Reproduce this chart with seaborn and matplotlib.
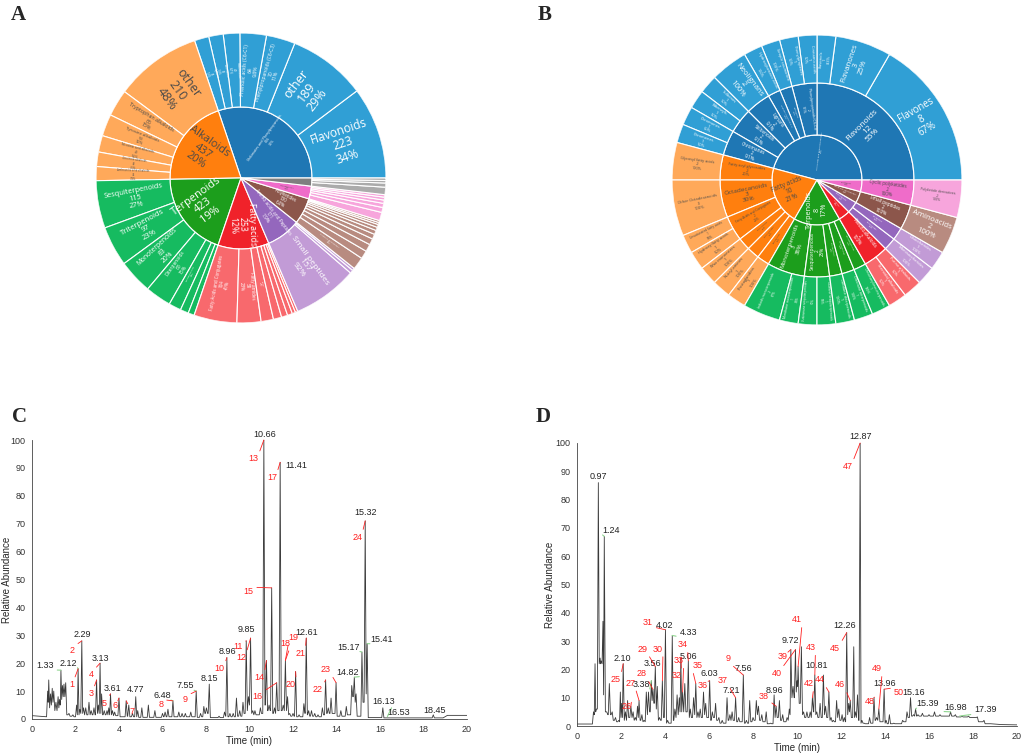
import numpy as np
import pandas as pd
import matplotlib
matplotlib.use("Agg")
import matplotlib.pyplot as plt
from matplotlib.ticker import MultipleLocator
import seaborn as sns

sns.set_style("white")
plt.rcParams["font.family"] = ["Liberation Sans", "DejaVu Sans"]

# ---------------- A : sunburst, all compounds ----------------
a_l1_names = ["Shikimates and Phenylpropanoids", "Alkaloids", "Terpenoids", "Fatty acids",
              "Amino acids and Peptides", "Polyketides", "Carbohydrates", "other"]
a_l1_values = [656, 437, 423, 253, 171, 130, 63, 40]

a_l2_names = ["Flavonoids", "other", "Phenylpropanoids (C6-C3)", "Phenolic acids (C6-C1)", "Stilbenoids",
              "Coumarins", "Lignans",
              "other", "Tryptophan alkaloids", "Tyrosine alkaloids", "Nicotinic acid alkaloids",
              "Ornithine alkaloids", "Anthranilic acid alkaloids",
              "Sesquiterpenoids", "Triterpenoids", "Monoterpenoids", "Diterpenoids", "Meroterpenoids",
              "Sesterterpenoids", "Apocarotenoids",
              "Fatty Acids and Conjugates", "Fatty amides", "other", "Fatty esters", "Eicosanoids",
              "Octadecanoids", "Fatty alcohols", "Glycerolipids",
              "Small peptides", "Oligopeptides", "Amino acids",
              "Aromatic polyketides", "Macrolides", "Polyethers", "Cyclic polyketides", "Linear polyketides",
              "Naphthalenes", "Chromones", "Polyprenols", "Tetracyclic", "other",
              "Monosaccharides", "Disaccharides", "Aminosugars", "Oligosaccharides", "Polyols", "other",
              "Phenylethanoids", "Organic acids", "Benzenoids", "other"]
a_l2_values = [223, 189, 70, 64, 40, 35, 35,
               210, 65, 53, 40, 35, 34,
               115, 97, 83, 63, 30, 20, 15,
               104, 58, 30, 20, 15, 12, 8, 6,
               157, 8, 6,
               30, 20, 18, 15, 12, 10, 8, 7, 5, 5,
               20, 12, 10, 8, 7, 6,
               18, 10, 6, 6]
a_l2_parent = [0] * 7 + [1] * 6 + [2] * 7 + [3] * 8 + [4] * 3 + [5] * 10 + [6] * 6 + [7] * 4

# ---------------- B : sunburst, identified compounds ----------------
b_l1_names = ["Shikimates and Phenylpropanoids", "Fatty acids", "Terpenoids", "Alkaloids",
              "Carbohydrates", "Amino acids and Peptides", "Polyketides"]
b_l1_values = [22, 10, 8, 2, 2, 2, 2]

b_l2_names = ["Flavonoids", "Phenylpropanoids (C6-C3)", "Coumarins", "Phenolic acids (C6-C1)", "Lignans",
              "Stilbenoids", "Chromanes",
              "Fatty acyl glycosides", "Octadecanoids", "Fatty Acids and Conjugates", "Fatty esters",
              "Fatty amides", "Eicosanoids",
              "Monoterpenoids", "Sesquiterpenoids", "Diterpenoids", "Triterpenoids", "Meroterpenoids",
              "Pseudoalkaloids", "Saccharides", "Glycosides", "Small peptides", "Cyclic polyketides"]
b_l2_values = [12, 2, 1, 1, 2, 2, 2, 2, 3, 2, 1, 1, 1, 3, 2, 1, 1, 1, 2, 1, 1, 2, 2]
b_l2_parent = [0] * 7 + [1] * 6 + [2] * 5 + [3] + [4, 4] + [5] + [6]

b_l3_names = ["Flavones", "Flavanones", "Flavonols", "Cinnamic acids", "Phenylpropenes", "Simple coumarins",
              "Hydroxybenzoic acids", "Neolignans", "Stilbenes", "Bibenzyls", "Chromones", "Chromenes",
              "Glycosyl fatty acids", "Other Octadecanoids", "Unsaturated fatty acids", "Hydroxy fatty acids",
              "Wax monoesters", "N-acyl amines", "Prostaglandins",
              "Iridoids monoterpenoids", "Menthane monoterpenoids", "Eudesmane sesquiterpenoids",
              "Guaiane sesquiterpenoids", "Labdane diterpenoids", "Oleanane triterpenoids",
              "Chromanyl meroterpenoids", "Steroidal alkaloids", "Purine alkaloids",
              "Monosaccharides", "Disaccharides", "Aminoacids", "Polyketide derivatives"]
b_l3_values = [8, 3, 1, 1, 1, 1, 1, 2, 1, 1, 1, 1,
               2, 3, 1, 1, 1, 1, 1,
               2, 1, 1, 1, 1, 1, 1,
               1, 1, 1, 1, 2, 2]
b_l3_parent = [0, 0, 0, 1, 1, 2, 3, 4, 5, 5, 6, 6,
               7, 8, 9, 9, 10, 11, 12,
               13, 13, 14, 14, 15, 16, 17,
               18, 18, 19, 20, 21, 22]

# ---------------- C : chromatogram ----------------
c_lead_t = [0.0, 0.62]
c_lead_y = [1.2, 0.8]
c_peak_t = [0.72, 0.77, 0.85, 0.93, 1.00, 1.10, 1.20, 1.27, 1.33, 1.40,
            1.47, 1.55, 1.70, 1.88, 2.05, 2.12, 2.20, 2.29, 2.37, 2.47,
            2.62, 2.72, 2.85, 2.97, 3.05, 3.13, 3.20, 3.32, 3.45, 3.53,
            3.61, 3.70, 3.80, 4.00, 4.33, 4.45, 4.62, 4.77, 4.86, 5.05,
            5.35, 5.65, 6.00, 6.12, 6.25, 6.48, 6.75, 6.90, 7.05, 7.30,
            7.55, 7.75, 7.90, 8.02, 8.15, 8.60, 8.85, 8.96, 9.10, 9.25,
            9.40, 9.55, 9.70, 9.85, 9.95, 10.05, 10.15, 10.25, 10.50, 10.66,
            10.78, 10.90, 11.02, 11.15, 11.25, 11.41, 11.55, 11.65, 11.75, 11.85,
            12.00, 12.12, 12.28, 12.50, 12.61, 12.72, 12.85, 13.00, 13.15, 13.35,
            13.50, 13.62, 13.75, 13.98, 14.20, 14.45, 14.70, 14.82, 14.90, 15.17,
            15.32, 15.41, 16.13, 18.45]
c_peak_h = [10, 14, 9, 11, 10, 6, 8, 7, 17.5, 12,
            12.5, 13, 2, 1.5, 5, 18, 3.5, 28, 4, 4,
            6, 3, 4, 14, 5, 20, 9, 3, 3, 4,
            9, 3, 2.5, 7.5, 6.5, 5, 2, 8, 3, 4,
            5, 3, 2, 2.5, 3.5, 6.5, 2.5, 2, 2, 2.5,
            10, 2, 4.5, 4, 12.5, 1, 2.5, 22, 2, 2,
            7.5, 3, 6, 28, 8, 29, 3, 3, 4, 100,
            21, 5, 47, 4, 13, 92, 5, 21, 8, 2,
            2, 17, 1.5, 5.5, 29, 3, 3, 2, 1.5, 4,
            14, 4, 7.5, 13, 3, 4.5, 12, 15, 9, 24,
            71, 27, 4, 1.5]
c_valley = [0.8, 6, 4, 5, 6, 3, 3, 4, 5, 7,
            8, 8, 1.5, 1, 0.8, 1.5, 1.5, 2, 2, 1.5,
            1.5, 1.5, 1.5, 1.5, 2, 2, 2, 1.5, 1.5, 1.5,
            1.5, 1.5, 1.2, 1.2, 0.8, 1, 0.8, 0.8, 0.8, 0.6,
            0.6, 0.6, 0.6, 0.8, 0.8, 0.8, 0.8, 0.8, 0.8, 0.8,
            0.8, 0.6, 0.8, 2, 2, 0.5, 0.5, 1, 0.8, 0.8,
            0.8, 1, 1, 2, 3, 5, 2, 1.5, 1.5, 2,
            5, 3, 3, 2, 2, 3, 3, 3, 3, 1.5,
            1, 1, 0.8, 0.8, 2, 1.5, 1, 1, 0.8, 0.8,
            1.5, 2, 2, 2, 1, 1, 1.5, 8, 6, 1,
            6, 9, 0.5, 0.4]
c_tail_t = [18.9, 19.1, 20.0]
c_tail_y = [0.4, 1.3, 1.3]

c_rt = [1.33, 2.12, 2.29, 3.13, 3.61, 4.77, 6.48, 7.55, 8.15, 8.96, 9.85,
        10.66, 11.41, 12.61, 14.82, 15.17, 15.32, 15.41, 16.13, 16.53, 18.45]
c_rt_x = [0.61, 1.69, 2.30, 3.14, 3.69, 4.77, 5.98, 7.05, 8.17, 8.97, 9.85,
          10.68, 12.15, 12.61, 14.53, 14.56, 15.33, 16.05, 16.17, 16.86, 18.50]
c_rt_y = [19.2, 20.0, 30.2, 21.6, 10.9, 10.4, 8.4, 11.9, 14.6, 24.2, 32.2,
          102.1, 90.7, 31.1, 16.8, 25.8, 74.1, 28.6, 6.2, 2.5, 3.2]
c_rt_green = [1, 1, 0, 0, 0, 0, 1, 1, 0, 0, 0, 0, 0, 0, 1, 1, 0, 1, 0, 1, 0]

c_id = [str(i) for i in range(1, 25)]
c_id_x = [1.81, 1.85, 2.71, 2.71, 3.34, 3.83, 4.60, 5.93, 7.05, 8.63, 9.46, 9.62,
          10.19, 10.45, 9.96, 10.38, 11.03, 11.63, 12.03, 11.91, 12.34, 13.15, 13.52, 14.96]
c_id_y = [12.3, 24.6, 9.1, 15.8, 5.7, 4.9, 2.7, 5.3, 6.9, 18.1, 25.9, 22.0,
          93.3, 14.9, 45.6, 8.1, 86.6, 27.2, 29.2, 12.3, 23.6, 10.5, 17.7, 65.2]
c_id_tip = [2.12, 2.29, 2.97, 3.13, 3.61, 4.00, 4.33, 6.48, 7.55, 8.96, 9.85, 10.05,
            10.66, 10.78, 11.02, 11.25, 11.41, 11.65, 11.65, 12.12, 12.61, 13.50, 13.98, 15.32]

# ---------------- D : chromatogram ----------------
d_lead_t = [0.0, 0.66]
d_lead_y = [0.7, 0.7]
d_peak_t = [0.75, 0.82, 0.88, 0.97, 1.05, 1.10, 1.18, 1.24, 1.35, 1.47,
            1.60, 1.75, 1.90, 1.97, 2.03, 2.10, 2.20, 2.30, 2.45, 2.55,
            2.65, 2.75, 2.82, 2.95, 3.05, 3.15, 3.25, 3.38, 3.45, 3.56,
            3.65, 3.75, 3.88, 4.02, 4.12, 4.33, 4.45, 4.55, 4.65, 4.72,
            4.80, 4.90, 5.06, 5.15, 5.30, 5.40, 5.50, 5.60, 5.75, 5.85,
            6.03, 6.15, 6.30, 6.45, 6.60, 6.82, 6.95, 7.05, 7.21, 7.35,
            7.56, 7.70, 7.85, 8.00, 8.15, 8.25, 8.40, 8.60, 8.80, 8.96,
            9.05, 9.20, 9.35, 9.55, 9.65, 9.72, 9.82, 9.93, 10.00, 10.05,
            10.20, 10.30, 10.45, 10.60, 10.70, 10.81, 10.90, 11.05, 11.20, 11.30,
            11.45, 11.55, 11.65, 11.80, 11.90, 12.05, 12.15, 12.26, 12.35, 12.42,
            12.58, 12.65, 12.75, 12.87, 12.95, 13.05, 13.30, 13.50, 13.62, 13.72,
            13.96, 14.05, 14.20, 14.40, 14.80, 15.00, 15.16, 15.30, 15.39, 15.50,
            15.70, 16.00, 16.25, 16.50, 16.98, 17.20, 17.50, 17.80, 18.20, 18.50]
d_peak_h = [5, 22, 6, 86, 24, 23, 37, 67, 5, 15,
            5, 3, 2, 12, 8, 22, 5, 9, 7, 5,
            3, 7, 9, 4, 2, 12, 12, 16, 13, 21,
            14, 3, 16, 34, 2, 32, 6, 11, 10, 24,
            12, 15, 23, 6, 10, 15, 5, 6, 12, 8,
            16, 5, 8, 3, 2, 10, 4, 5, 10, 3,
            18, 2, 9, 3, 9, 7, 4, 5, 1, 11,
            7, 9, 4, 3, 6, 27, 14, 27, 16, 21,
            28, 5, 5, 5, 10, 18, 5, 8, 18, 7,
            12, 3, 2, 9, 6, 4, 3, 33, 8, 9,
            28, 5, 11, 100, 2, 1, 3, 10, 3, 6,
            13, 2, 4, 1, 2, 5, 10, 4, 6, 4,
            4.5, 4, 5, 4, 5, 4, 3.5, 3.5, 3.2, 2]
d_valley = [0.7, 4, 5, 6, 22, 22, 22, 11, 5, 4,
            4, 2, 1.5, 1.5, 3, 3, 2, 2, 3, 3,
            2, 2, 3, 2, 1.5, 1.5, 4, 5, 9, 8,
            6, 2, 2, 3, 1, 1, 2, 3, 4, 5,
            5, 5, 5, 3, 3, 4, 3, 3, 3, 4,
            3, 2, 3, 2, 1, 1, 2, 2, 2, 1.5,
            1.5, 1, 1, 1.5, 2, 4, 2, 1.5, 0.8, 0.8,
            3, 3, 2, 1.5, 2, 4, 10, 10, 12, 14,
            8, 4, 3, 3, 3, 5, 4, 3, 3, 4,
            3, 2, 1.5, 1.5, 3, 2, 1.5, 1.5, 4, 5,
            3, 3, 3, 2, 1, 1, 0.8, 1, 2, 2,
            1.5, 1, 0.8, 0.8, 0.8, 1.5, 3, 3.5, 3.5, 3.5,
            3.5, 3.5, 3.5, 3.5, 3.5, 3.5, 3.2, 3.2, 3, 1.5]
d_tail_t = [18.8, 19.3, 20.0]
d_tail_y = [0.8, 0.5, 0.4]

d_rt = [0.97, 1.24, 2.10, 3.38, 3.56, 4.02, 4.33, 5.06, 6.03, 7.21, 7.56, 8.96,
        9.72, 10.81, 12.26, 12.87, 13.96, 15.16, 15.39, 16.98, 17.39]
d_rt_x = [0.95, 1.56, 2.08, 2.91, 3.44, 3.98, 5.05, 5.08, 6.03, 7.00, 7.58, 8.97,
          9.70, 10.91, 12.17, 12.88, 13.98, 15.30, 15.94, 17.20, 18.56]
d_rt_y = [88.2, 69.1, 23.9, 14.7, 22.2, 35.6, 33.1, 24.5, 18.6, 12.5, 20.4, 12.7,
          30.1, 21.3, 35.5, 102.2, 15.1, 12.0, 7.9, 6.7, 5.8]
d_rt_green = [0, 1, 0, 1, 0, 0, 1, 0, 0, 0, 0, 0, 0, 0, 0, 0, 0, 0, 1, 1, 1]

d_id = ["25", "26", "27", "28", "29", "30", "31", "32", "33", "34", "35", "36", "37", "9",
        "38", "39", "40", "41", "42", "43", "44", "45", "46", "47", "48", "49", "50"]
d_id_x = [1.77, 2.24, 2.42, 2.95, 2.98, 3.68, 3.23, 4.52, 4.62, 4.80, 5.48, 5.73, 6.64, 6.85,
          8.48, 9.36, 9.06, 10.00, 10.53, 10.61, 11.02, 11.74, 11.97, 12.30, 13.29, 13.64, 14.62]
d_id_y = [16.5, 6.8, 15.1, 18.4, 27.2, 27.2, 36.6, 17.7, 23.1, 28.7, 21.3, 14.2, 16.0, 23.7,
          10.6, 24.5, 18.6, 37.5, 14.9, 27.7, 16.3, 27.5, 14.5, 91.7, 8.6, 20.2, 11.9]
d_id_tip = [2.10, 2.45, 2.82, 3.45, 3.56, 3.88, 4.02, 4.72, 4.80, 5.06, 5.40, 6.03, 7.21, 7.56,
            9.05, 9.72, 9.93, 10.05, 10.70, 10.81, 11.45, 12.26, 12.42, 12.87, 13.50, 13.72, 13.96]

# colours: inner rings and outer (lighter) rings, per top-level group
inner_colors = ["#1f77b4", "#ff7f0e", "#1c9e1c", "#f0222a", "#9467bd", "#8c564b", "#ef6cc9", "#7f7f7f"]
outer_colors = ["#309fd5", "#ffa95a", "#16bb60", "#f8696d", "#c29bd6", "#b88b80", "#f7a5dc", "#ababab"]
text_colors = ["white", "#4a4a4a", "white", "white", "white", "white", "#4a4a4a", "white"]


def pct_text(p):
    return f"{p:.0f}%" if p >= 9.95 else f"{p:.1f}%"


def draw_level(ax, names, values, group, parent_vals, r0, r1, root, colors, cap_px):
    edges = np.concatenate([[0], np.cumsum(values)]) / root * 360.0
    for i, name in enumerate(names):
        a0, a1 = edges[i], edges[i + 1]
        span = a1 - a0
        mid = np.deg2rad((a0 + a1) / 2)
        ax.bar(mid, r1 - r0, width=np.deg2rad(span), bottom=r0, align="center",
               color=colors[group[i]], edgecolor="white", linewidth=0.8)
        rt = (r0 + r1) / 2 if r0 > 0 else 0.66 * r1
        thick = 0.9 * (r1 - r0)
        arc = np.deg2rad(span) * rt
        px = min(arc / 3.9, thick / (0.56 * max(len(name), 4)), cap_px)
        if px < 1.8:
            continue
        rot = ((a0 + a1) / 2) % 360
        if 90 < rot <= 270:
            rot -= 180
        elif rot > 270:
            rot -= 360
        label = f"{name}\n{values[i]}\n{pct_text(100.0 * values[i] / parent_vals[i])}"
        ax.text(mid, rt, label, rotation=rot, rotation_mode="anchor", ha="center", va="center",
                fontsize=px * 0.72, color=text_colors[group[i]], linespacing=1.05,
                family=["Open Sans", "DejaVu Sans"])


def sunburst_axes(fig, cx, cy, R):
    W, H = 1024, 755
    ax = fig.add_axes([(cx - R) / W, 1 - (cy + R) / H, 2 * R / W, 2 * R / H], projection="polar")
    ax.set_theta_zero_location("E")
    ax.set_ylim(0, R)
    ax.set_axis_off()
    return ax


def build_trace(lead_t, lead_y, peak_t, peak_h, valley, tail_t, tail_y, half=0.05):
    xs, ys = list(lead_t), list(lead_y)
    n = len(peak_t)
    for i in range(n):
        t = peak_t[i]
        gl = t - peak_t[i - 1] if i > 0 else 1.0
        gr = peak_t[i + 1] - t if i < n - 1 else 1.0
        nxt = valley[i + 1] if i < n - 1 else tail_y[0]
        xs += [t - min(half, gl / 2), t, t + min(half, gr / 2)]
        ys += [valley[i], peak_h[i], nxt]
    xs += list(tail_t)
    ys += list(tail_y)
    return pd.DataFrame({"Time (min)": xs, "Relative Abundance": ys})


def chromatogram(ax, df, peak_t, peak_h, rt, rt_x, rt_y, rt_green, ids, id_x, id_y, id_tip, ylab_x):
    sns.lineplot(data=df, x="Time (min)", y="Relative Abundance", ax=ax, color="#3a3a3a",
                 linewidth=0.6, estimator=None, sort=False)
    pt = np.asarray(peak_t)
    ph = np.asarray(peak_h)

    def h_at(t):
        return ph[np.argmin(np.abs(pt - t))]

    for v, x, y, g in zip(rt, rt_x, rt_y, rt_green):
        if g:
            rel = (1, 0) if x < v else (0, 0)
            ax.annotate(f"{v:.2f}", xy=(v, h_at(v)), xytext=(x, y), ha="center", va="center",
                        fontsize=6.5, color="#222222", annotation_clip=False,
                        arrowprops=dict(arrowstyle="-", color="#8fd68f", lw=0.8,
                                        shrinkA=0, shrinkB=0, relpos=rel))
        else:
            ax.text(x, y, f"{v:.2f}", ha="center", va="center", fontsize=6.5,
                    color="#222222", clip_on=False)
    for s, x, y, tip in zip(ids, id_x, id_y, id_tip):
        ty = h_at(tip)
        rel = (1 if tip > x else 0, 1 if ty > y else 0)
        ax.annotate(s, xy=(tip, ty), xytext=(x, y), ha="center", va="center", fontsize=6.5,
                    color="#ff2020", annotation_clip=False,
                    arrowprops=dict(arrowstyle="-", color="#ff2020", lw=0.6,
                                    shrinkA=0, shrinkB=0, relpos=rel))
    ax.set_xlim(0, 20)
    ax.set_ylim(0, 100)
    ax.xaxis.set_major_locator(MultipleLocator(2))
    ax.xaxis.set_minor_locator(MultipleLocator(0.2))
    ax.yaxis.set_major_locator(MultipleLocator(10))
    ax.yaxis.set_minor_locator(MultipleLocator(2))
    ax.tick_params(which="both", direction="out", width=0.5, colors="#333333", labelsize=6.5, pad=1.5)
    ax.tick_params(which="major", length=3)
    ax.tick_params(which="minor", length=1.6)
    sns.despine(ax=ax)
    for sp in ["left", "bottom"]:
        ax.spines[sp].set_linewidth(0.6)
        ax.spines[sp].set_color("#444444")
    ax.set_xlabel("Time (min)", fontsize=7, labelpad=1)
    ax.set_ylabel("Relative Abundance", fontsize=7)
    ax.yaxis.set_label_coords(ylab_x, 0.5)


fig = plt.figure(figsize=(10.24, 7.55), dpi=100)

# A
axA = sunburst_axes(fig, 241, 178, 145)
rootA = sum(a_l1_values)
a_l1_group = list(range(len(a_l1_values)))
draw_level(axA, a_l1_names, a_l1_values, a_l1_group, [rootA] * len(a_l1_values),
           0, 71, rootA, inner_colors, 11)
draw_level(axA, a_l2_names, a_l2_values, a_l2_parent, [a_l1_values[p] for p in a_l2_parent],
           71, 145, rootA, outer_colors, 12.5)

# B
axB = sunburst_axes(fig, 817, 180, 145)
rootB = sum(b_l1_values)
b_l1_group = list(range(len(b_l1_values)))
b_l3_group = [b_l2_parent[p] for p in b_l3_parent]
draw_level(axB, b_l1_names, b_l1_values, b_l1_group, [rootB] * len(b_l1_values),
           0, 45, rootB, inner_colors, 8)
draw_level(axB, b_l2_names, b_l2_values, b_l2_parent, [b_l1_values[p] for p in b_l2_parent],
           45, 97, rootB, inner_colors, 9)
draw_level(axB, b_l3_names, b_l3_values, b_l3_group, [b_l2_values[p] for p in b_l3_parent],
           97, 145, rootB, outer_colors, 12)

# C
axC = fig.add_axes([32 / 1024, 1 - 719 / 755, 435 / 1024, 279 / 755])
dfC = build_trace(c_lead_t, c_lead_y, c_peak_t, c_peak_h, c_valley, c_tail_t, c_tail_y)
chromatogram(axC, dfC, c_peak_t, c_peak_h, c_rt, c_rt_x, c_rt_y, c_rt_green,
             c_id, c_id_x, c_id_y, c_id_tip, -0.046)

# D
axD = fig.add_axes([577 / 1024, 1 - 726 / 755, 440 / 1024, 283 / 755])
dfD = build_trace(d_lead_t, d_lead_y, d_peak_t, d_peak_h, d_valley, d_tail_t, d_tail_y)
chromatogram(axD, dfD, d_peak_t, d_peak_h, d_rt, d_rt_x, d_rt_y, d_rt_green,
             d_id, d_id_x, d_id_y, d_id_tip, -0.05)

for letter, x, y in [("A", 0.018, 0.980), ("B", 0.532, 0.980), ("C", 0.0195, 0.448), ("D", 0.530, 0.448)]:
    fig.text(x, y, letter, fontsize=15, fontweight="bold", ha="center", va="center",
             family=["Liberation Serif", "DejaVu Serif"])

fig.savefig("out.png", dpi=100)
